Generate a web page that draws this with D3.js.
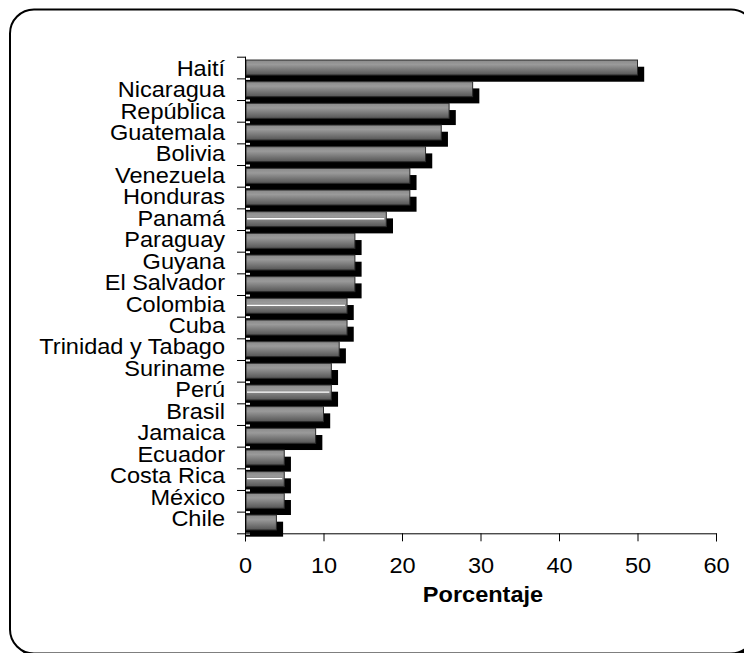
<!DOCTYPE html>
<html>
<head>
<meta charset="utf-8">
<script src="https://cdn.jsdelivr.net/npm/d3@7/dist/d3.min.js"></script>
<style>
  html, body { margin: 0; padding: 0; background: #fff; }
  svg { display: block; }
  text { font-family: "Liberation Sans", Arial, sans-serif; fill: #000; }
</style>
</head>
<body>
<svg id="chart" width="744" height="653"></svg>
<script>
// Countries, top to bottom
const categories = [
  "Haití", "Nicaragua", "República", "Guatemala", "Bolivia", "Venezuela",
  "Honduras", "Panamá", "Paraguay", "Guyana", "El Salvador", "Colombia",
  "Cuba", "Trinidad y Tabago", "Suriname", "Perú", "Brasil", "Jamaica",
  "Ecuador", "Costa Rica", "México", "Chile"
];
// Percentage per country
const values = [50, 29, 26, 25, 23, 21, 21, 18, 14, 14, 14, 13, 13, 12, 11, 11, 10, 9, 5, 5, 5, 4];
// Bars carrying a thin white streak
const streaked = ["Panamá", "Colombia", "Perú", "Costa Rica"];
// Axis
const xTicks = [0, 10, 20, 30, 40, 50, 60];
const xTitle = "Porcentaje";

(function () {
const svg = d3.select("#chart");
const stretch = "scale(1.07,1)";
const fontSize = 22;

// Frame: rounded border with a dark drop edge
svg.append("rect").attr("x", 15).attr("y", 14.5).attr("width", 745).attr("height", 644)
  .attr("rx", 24).attr("fill", "#000");
svg.append("rect").attr("x", 10).attr("y", 9.5).attr("width", 745).attr("height", 644)
  .attr("rx", 24).attr("fill", "#fff").attr("stroke", "#000").attr("stroke-width", 2);

const plotTop = 56.7, plotBottom = 533.3, plotLeft = 245, plotRight = 716;

const x = d3.scaleLinear().domain([0, 60]).range([plotLeft, plotRight]);
// Slots (one per country) and the bar band inside each slot
const slot = d3.scaleBand().domain(categories).range([plotTop, plotBottom]).padding(0);
const y = d3.scaleBand().domain(categories).range([plotTop, plotBottom])
  .paddingInner(0.3077).paddingOuter(0.1538);
// Label baselines
const yLabel = d3.scalePoint().domain(categories).range([75.7, 526]);

const defs = svg.append("defs");
const grad = defs.append("linearGradient").attr("id", "barGrad")
  .attr("x1", 0).attr("y1", 0).attr("x2", 0).attr("y2", 1);
grad.append("stop").attr("offset", "0%").attr("stop-color", "#8a8a8a");
grad.append("stop").attr("offset", "30%").attr("stop-color", "#9a9a9a");
grad.append("stop").attr("offset", "100%").attr("stop-color", "#555555");

const data = categories.map((c, i) => ({ c, v: values[i] }));
const off = 6.7;

// Shadows
svg.append("g").selectAll("rect").data(data).join("rect")
  .attr("x", plotLeft)
  .attr("y", d => y(d.c) + off)
  .attr("width", d => x(d.v) + off - plotLeft)
  .attr("height", y.bandwidth())
  .attr("fill", "#000");

// Inner tick marks (white over the shadows)
const bounds = d3.range(categories.length + 1).map(i => plotTop + slot.step() * i);
svg.append("g").selectAll("line").data(bounds).join("line")
  .attr("x1", plotLeft + 1).attr("x2", plotLeft + 5)
  .attr("y1", d => d + 0.5).attr("y2", d => d + 0.5)
  .attr("stroke", "#fff").attr("stroke-width", 2);

// Bars
svg.append("g").selectAll("rect").data(data).join("rect")
  .attr("x", plotLeft + 1)
  .attr("y", d => y(d.c))
  .attr("width", d => x(d.v) - plotLeft - 1)
  .attr("height", y.bandwidth())
  .attr("fill", "url(#barGrad)")
  .attr("stroke", "#2a2a2a").attr("stroke-width", 1);

// Streaks
svg.append("g").selectAll("line").data(data.filter(d => streaked.includes(d.c))).join("line")
  .attr("x1", plotLeft + 2).attr("x2", d => x(d.v) - 2)
  .attr("y1", d => y(d.c) + y.bandwidth() * 0.47)
  .attr("y2", d => y(d.c) + y.bandwidth() * 0.47)
  .attr("stroke", "#fff").attr("stroke-width", 1.3);

// Y axis: line and outer ticks at slot boundaries
const yAxis = svg.append("g");
yAxis.append("line").attr("x1", plotLeft + 0.5).attr("x2", plotLeft + 0.5)
  .attr("y1", plotTop).attr("y2", plotBottom).attr("stroke", "#000");
yAxis.selectAll("line.tick").data(bounds).join("line").attr("class", "tick")
  .attr("x1", plotLeft - 8).attr("x2", plotLeft + 0.5)
  .attr("y1", d => d + 0.5).attr("y2", d => d + 0.5)
  .attr("stroke", "#000");

// Country labels
svg.append("g").selectAll("text").data(categories).join("text")
  .attr("transform", d => `translate(225,${yLabel(d)}) ${stretch}`)
  .attr("text-anchor", "end")
  .attr("font-size", fontSize)
  .text(d => d);

// X axis
const xAxis = svg.append("g").attr("transform", `translate(0,${plotBottom})`)
  .call(d3.axisBottom(x).tickValues(xTicks).tickSize(8).tickPadding(16.5).tickFormat(d3.format("d")));
xAxis.select(".domain").attr("stroke", "#000");
xAxis.selectAll(".tick line").attr("stroke", "#000");
xAxis.selectAll(".tick text")
  .attr("font-size", fontSize)
  .attr("font-family", "'Liberation Sans', Arial, sans-serif")
  .attr("fill", "#000")
  .attr("transform", stretch);

svg.append("text")
  .attr("transform", `translate(${(plotLeft + plotRight) / 2 + 2.5},601.7) ${stretch}`)
  .attr("text-anchor", "middle")
  .attr("font-size", fontSize)
  .attr("font-weight", "bold")
  .text(xTitle);
})();
</script>
</body>
</html>
